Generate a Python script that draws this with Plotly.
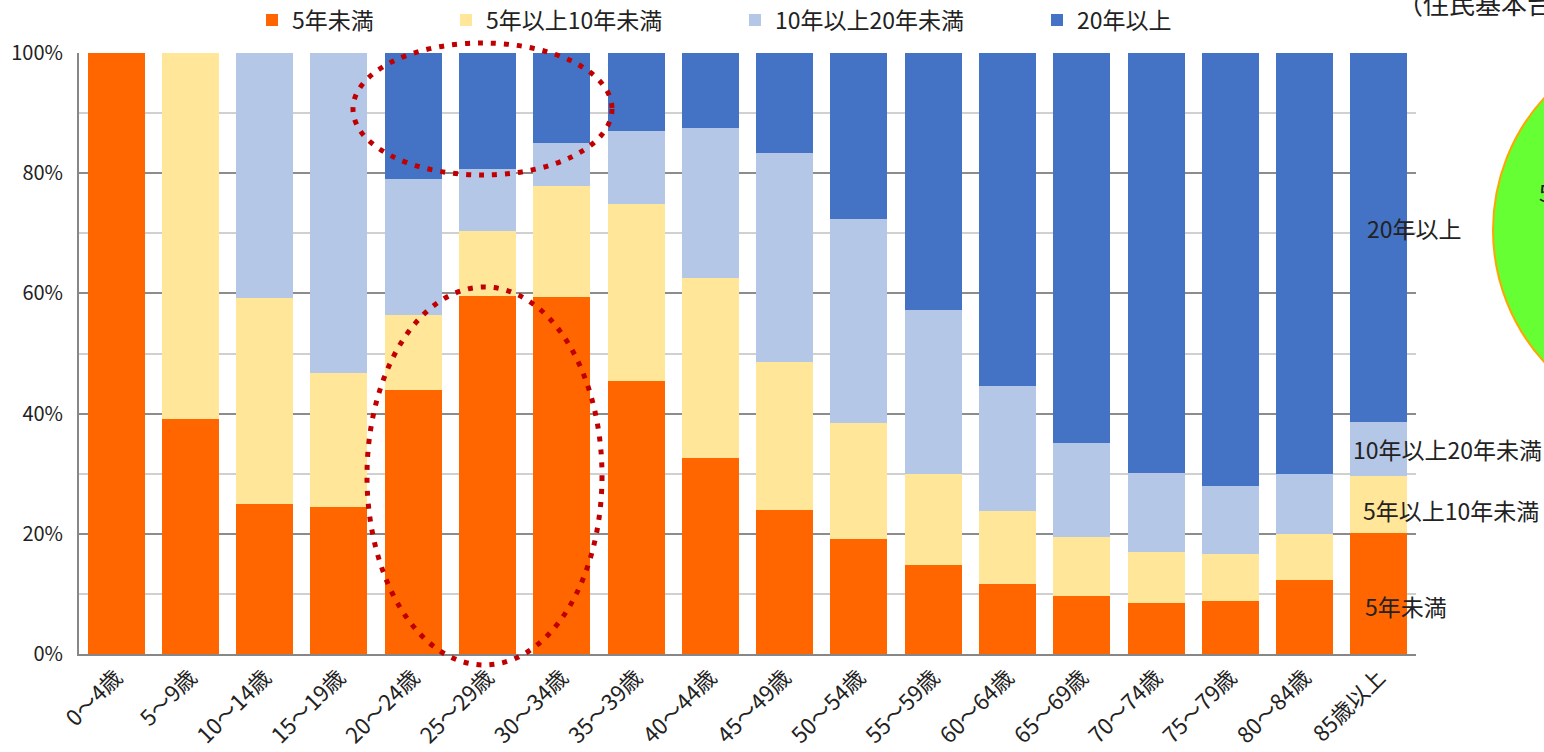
import plotly.graph_objects as go

categories = ["0～4歳", "5～9歳", "10～14歳", "15～19歳", "20～24歳", "25～29歳",
              "30～34歳", "35～39歳", "40～44歳", "45～49歳", "50～54歳", "55～59歳",
              "60～64歳", "65～69歳", "70～74歳", "75～79歳", "80～84歳", "85歳以上"]

under5 = [100.0, 39.1, 25.0, 24.5, 43.9, 59.5, 59.4, 45.4, 32.6, 24.0, 19.1, 14.8, 11.7, 9.6, 8.5, 8.9, 12.3, 20.1]
y5to10 = [0.0, 60.9, 34.2, 22.3, 12.5, 10.9, 18.4, 29.4, 30.0, 24.6, 19.3, 15.2, 12.1, 9.8, 8.5, 7.7, 7.6, 9.6]
y10to20 = [0.0, 0.0, 40.8, 53.2, 22.6, 10.3, 7.2, 12.2, 25.0, 34.7, 34.0, 27.2, 20.8, 15.7, 13.1, 11.3, 10.0, 8.9]
over20 = [0.0, 0.0, 0.0, 0.0, 21.0, 19.3, 15.0, 13.0, 12.4, 16.7, 27.6, 42.8, 55.4, 64.9, 69.9, 72.1, 70.1, 61.4]

series_names = ["5年未満", "5年以上10年未満", "10年以上20年未満", "20年以上"]
series_values = [under5, y5to10, y10to20, over20]
colors = ["#FF6600", "#FFE699", "#B4C7E7", "#4472C4"]
tick_vals = [0, 20, 40, 60, 80, 100]

FONT = "Noto Sans CJK JP"
W, H = 1544, 752
ML, MR, MT, MB = 79, 128, 53, 98
PW, PH = W - ML - MR, H - MT - MB


def px(xp):
    return (xp - ML) / PW


def py(yp):
    return (H - MB - yp) / PH


legend_keys = ["legend", "legend2", "legend3", "legend4"]
legend_text_x = [292, 486, 775, 1077]

fig = go.Figure()
for name, vals, col, lk in zip(series_names, series_values, colors, legend_keys):
    fig.add_trace(go.Bar(x=categories, y=vals, name=name, marker_color=col,
                         marker_line_width=0, legend=lk))

layout_legends = {}
for lk, tx in zip(legend_keys, legend_text_x):
    layout_legends[lk] = dict(
        xref="container", yref="container",
        x=(tx - 40) / W, xanchor="left", y=1 - 20 / H, yanchor="middle",
        orientation="h", bgcolor="rgba(0,0,0,0)", borderwidth=0,
        font=dict(family=FONT, size=23, color="#222222"),
        itemclick=False, itemdoubleclick=False,
    )

fig.update_layout(
    width=W, height=H,
    margin=dict(l=ML, r=MR, t=MT, b=MB, pad=0, autoexpand=False),
    barmode="stack", bargap=0.233,
    plot_bgcolor="white", paper_bgcolor="white",
    font=dict(family=FONT, size=20, color="#222222"),
    showlegend=True,
    **layout_legends,
)

fig.update_xaxes(
    type="category", tickangle=-45, showgrid=False,
    showline=True, linecolor="#878787", linewidth=2,
    ticks="", tickfont=dict(family=FONT, size=22, color="#222222"),
)
fig.update_yaxes(
    range=[0, 100], tickvals=tick_vals, ticktext=[f"{v}%" for v in tick_vals],
    showgrid=True, gridcolor="#8C8C8C", gridwidth=2,
    minor=dict(dtick=10, showgrid=True, gridcolor="#D0D0D0", gridwidth=1.5),
    showline=True, linecolor="#878787", linewidth=2,
    ticks="", ticklabelstandoff=10,
    tickfont=dict(family=FONT, size=20, color="#222222"),
    zeroline=False,
)

# right-side series labels
label_pos = [("20年以上", 1414, 228), ("10年以上20年未満", 1447, 449),
             ("5年以上10年未満", 1451, 510), ("5年未満", 1406, 606)]
for t, xc, yc in label_pos:
    fig.add_annotation(text=t, xref="paper", yref="paper", x=px(xc), y=py(yc),
                       xanchor="center", yanchor="middle", showarrow=False,
                       font=dict(family=FONT, size=23, color="#222222"))

# partial pie and title on right edge
fig.add_shape(type="circle", xref="paper", yref="paper",
              x0=px(1493), x1=px(1885), y0=py(426), y1=py(34),
              fillcolor="#66FF33", line=dict(color="#FFA500", width=2), layer="below")
fig.add_annotation(text="5年未満", xref="paper", yref="paper", x=px(1537), y=py(192),
                   xanchor="left", yanchor="middle", showarrow=False,
                   font=dict(family=FONT, size=23, color="#222222"))
fig.add_annotation(text="（住民基本台帳人口）", xref="paper", yref="paper", x=px(1395), y=py(2),
                   xanchor="left", yanchor="middle", showarrow=False,
                   font=dict(family=FONT, size=26, color="#222222"))

# red dotted ellipses
for (x0, x1, y0, y1) in [(353, 612, 175, 43), (367, 602, 665, 287)]:
    fig.add_shape(type="circle", xref="paper", yref="paper",
                  x0=px(x0), x1=px(x1), y0=py(y0), y1=py(y1),
                  line=dict(color="#C00000", width=5, dash="5px,8px"),
                  fillcolor="rgba(0,0,0,0)", layer="above")

fig.write_html("out.html")
